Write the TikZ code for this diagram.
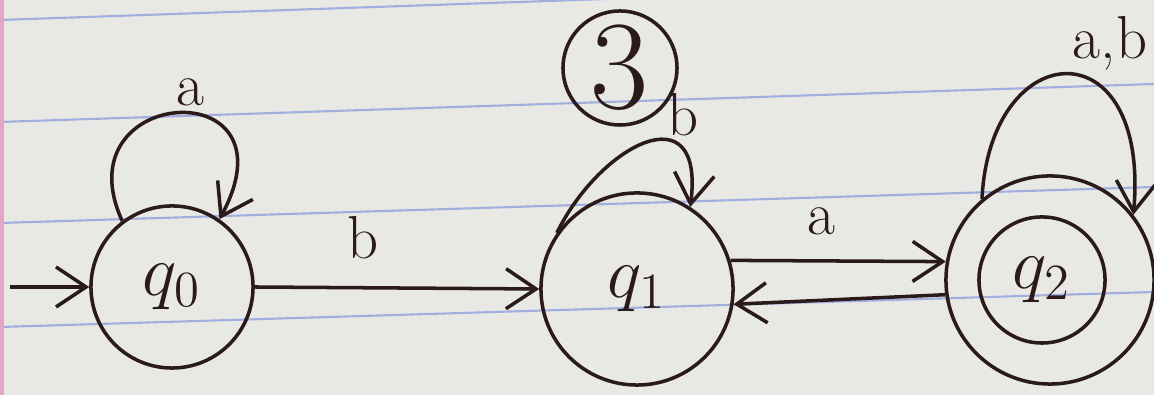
\documentclass[tikz,border=0pt]{standalone}
\usepackage{tikz}
\usetikzlibrary{arrows.meta}
\definecolor{Sheet}{HTML}{E8E8E5}
\definecolor{Rule}{HTML}{A2AEE0}
\definecolor{Margin}{HTML}{E3A6C8}
\definecolor{Ink}{HTML}{2A1A1A}

\begin{document}
\begin{tikzpicture}[x=0.01cm, y=0.01cm, >={Straight Barb[length=3mm,width=4mm]},
    stnode/.style={circle, draw=Ink, line width=1pt, inner sep=0pt},
    pen/.style={draw=Ink, line width=1pt},
    lbl/.style={text=Ink, font=\LARGE}]
    \useasboundingbox (0,0) rectangle (1154,395);
    % the sheet of lined paper
    \fill[Sheet] (0,0) rectangle (1154,395);
    \begin{scope}
      \clip (0,0) rectangle (1154,395);
      \foreach \ya/\yb in {375/415, 273/311, 172/208, 68/103}
        \draw[Rule, line width=0.6pt] (0,\ya) -- (1154,\yb);
      \draw[Margin, line width=1.2pt] (2,0) -- (2,395);
    \end{scope}
    % states
    \node[stnode, minimum size=1.62cm, text=Ink] (q0) at (172,108) {\huge $q_0$};
    \node[stnode, minimum size=1.92cm, text=Ink] (q1) at (637,106) {\huge $q_1$};
    \node[stnode, minimum size=1.26cm, text=Ink] (q2) at (1042,115) {\huge $q_2$};
    \node[stnode, minimum size=2.08cm] (q2out) at (1050,115) {};
    \node[stnode, minimum size=1.14cm, text=Ink] (tag) at (620,327) {\fontsize{36}{38}\selectfont 3};
    \coordinate (start) at (10,108);
    % transitions
    \draw[pen, ->] (start) -- (q0.west);
    \draw[pen, ->] (q0.127) .. controls (60,310) and (300,325) .. (q0.55);
    \node[lbl] (la0) at (190,303) {a};
    \draw[pen, ->] (q0.east) -- node[lbl, above=0.15cm, pos=0.38] {b} (q1.west);
    \draw[pen, ->] (q1.145) .. controls (600,250) and (705,305) .. (q1.57);
    \node[lbl] (lb1) at (683,280) {b};
    \draw[pen, ->] (q1.17) -- node[lbl, above=0.12cm, pos=0.42] {a} (q2out.170);
    \draw[pen, ->] (q2out.188) -- (q1.-9);
    \draw[pen, ->] (q2out.130) .. controls (990,360) and (1150,370) .. (q2out.38);
    \node[lbl] (lab2) at (1110,352) {a,b};
\end{tikzpicture}
\end{document}
